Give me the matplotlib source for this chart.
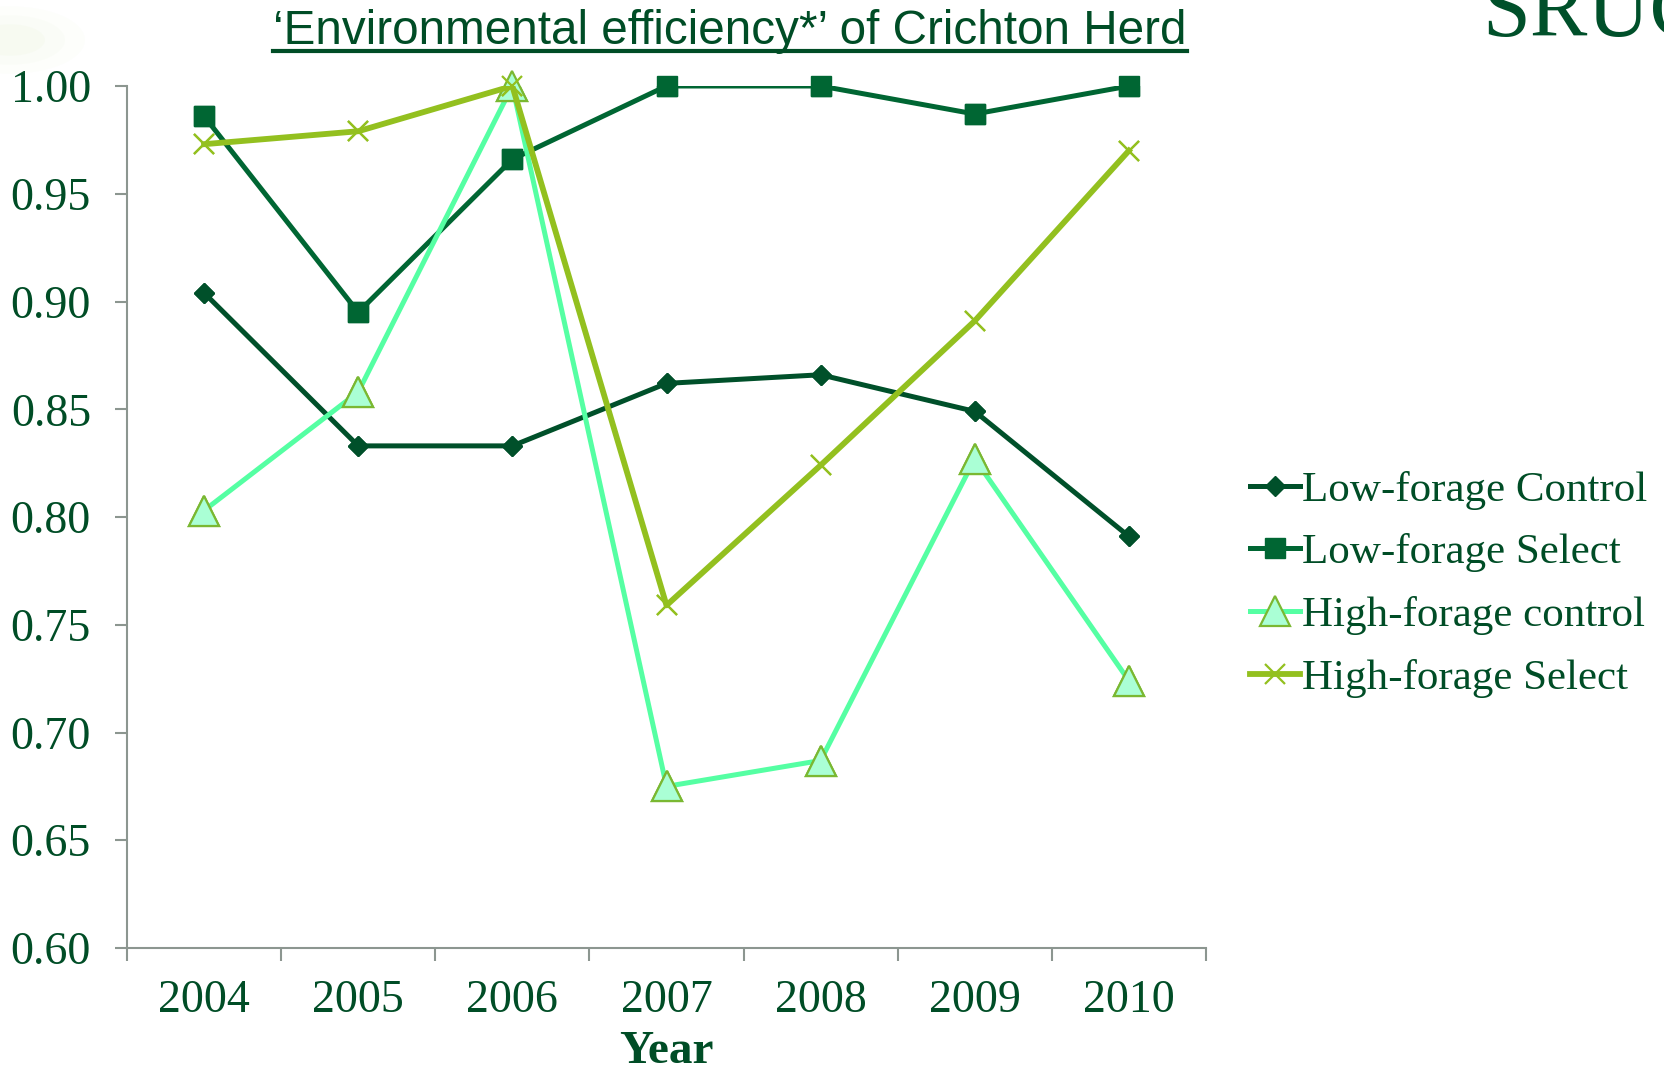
import numpy as np
import matplotlib
matplotlib.use("Agg")
import matplotlib.pyplot as plt
from matplotlib.lines import Line2D
from matplotlib.patches import Ellipse

years = ["2004", "2005", "2006", "2007", "2008", "2009", "2010"]

low_control = [0.904, 0.833, 0.833, 0.862, 0.866, 0.849, 0.791]
low_select = [0.986, 0.895, 0.966, 1.000, 1.000, 0.987, 1.000]
high_control = [0.803, 0.858, 1.000, 0.675, 0.687, 0.827, 0.724]
high_select = [0.973, 0.979, 1.000, 0.759, 0.824, 0.891, 0.970]

txt = '#004d26'
axis_grey = '#8c9690'

plt.rcParams['font.family'] = ['Liberation Serif', 'DejaVu Serif']

fig = plt.figure(figsize=(16.65, 10.72), dpi=100)

# faint green glow of the slide background, top left
for w, a in [(150, 0.035), (110, 0.045), (70, 0.06)]:
    fig.add_artist(Ellipse((10/1665, 1 - 40/1072), w/1665, w*0.45/1072,
                           transform=fig.transFigure, color='#c8e6a0',
                           alpha=a, lw=0))

ax = fig.add_axes([127/1665, 1 - 948/1072, (1206-127)/1665, (948-86)/1072])

x = np.arange(len(years))
series = [
    (low_control, 'Low-forage Control', dict(color='#00502a', lw=3.6, marker='D', ms=10.5,
                                             mfc='#00502a', mec='#00502a')),
    (low_select, 'Low-forage Select', dict(color='#006633', lw=3.6, marker='s', ms=14,
                                           mfc='#006633', mec='#006633')),
    (high_control, 'High-forage control', dict(color='#55ffa3', lw=3.6, marker='^', ms=22,
                                               mfc='#aaffd5', mec='#7ab832', mew=1.6)),
    (high_select, 'High-forage Select', dict(color='#93c01f', lw=4.2, marker='x', ms=14,
                                             mec='#93c01f', mew=1.6)),
]
for i, (vals, name, st) in enumerate(series):
    ax.plot(x, vals, label=name, zorder=3 + i, **st)
    # markers are not clipped at the top of the plot area, lines are
    mst = dict(st)
    mst['lw'] = 0
    ax.plot(x, vals, zorder=3 + i, clip_on=False, **mst)

ax.set_xlim(-0.5, len(years) - 0.5)
ax.set_ylim(0.60, 1.00)
ax.set_yticks(np.arange(0.60, 1.001, 0.05))
ax.set_yticklabels(['%.2f' % v for v in np.arange(0.60, 1.001, 0.05)])
ax.set_xticks(x)
ax.set_xticklabels(years)
ax.set_xticks(np.arange(-0.5, len(years)), minor=True)

for s in ['top', 'right']:
    ax.spines[s].set_visible(False)
for s in ['left', 'bottom']:
    ax.spines[s].set_color(axis_grey)
    ax.spines[s].set_linewidth(1.5)

ax.tick_params(axis='y', length=9, width=1.5, color=axis_grey, labelsize=33,
               labelcolor=txt, pad=17)
ax.tick_params(axis='x', which='major', length=0, labelsize=33, labelcolor=txt, pad=23)
ax.tick_params(axis='x', which='minor', length=9, width=1.5, color=axis_grey)

ax.set_xlabel('Year', fontsize=34, fontweight='bold', color=txt, labelpad=6)

leg = ax.legend(loc='upper left', bbox_to_anchor=(1.025, 0.574), frameon=False,
                fontsize=31, handlelength=1.15, handletextpad=0.05,
                labelspacing=0.55, borderaxespad=0)
for t in leg.get_texts():
    t.set_color(txt)

# title, underlined
title = fig.text(730/1665, 1 - 44/1072, '\u2018Environmental efficiency*\u2019 of Crichton Herd',
                 ha='center', va='baseline', fontsize=34.3, color=txt,
                 family=['Liberation Sans', 'DejaVu Sans'])
fig.canvas.draw()
bb = title.get_window_extent().transformed(fig.transFigure.inverted())
uy = 1 - 51/1072
fig.add_artist(Line2D([bb.x0, bb.x1], [uy, uy], transform=fig.transFigure,
                      color=txt, lw=3))

# logo text at top right, cut off by the edge
fig.text(1482/1665, 1 - 36/1072, 'SRUC', ha='left', va='baseline',
         fontsize=62, color='#00502a')

fig.savefig('out.png', dpi=100)
